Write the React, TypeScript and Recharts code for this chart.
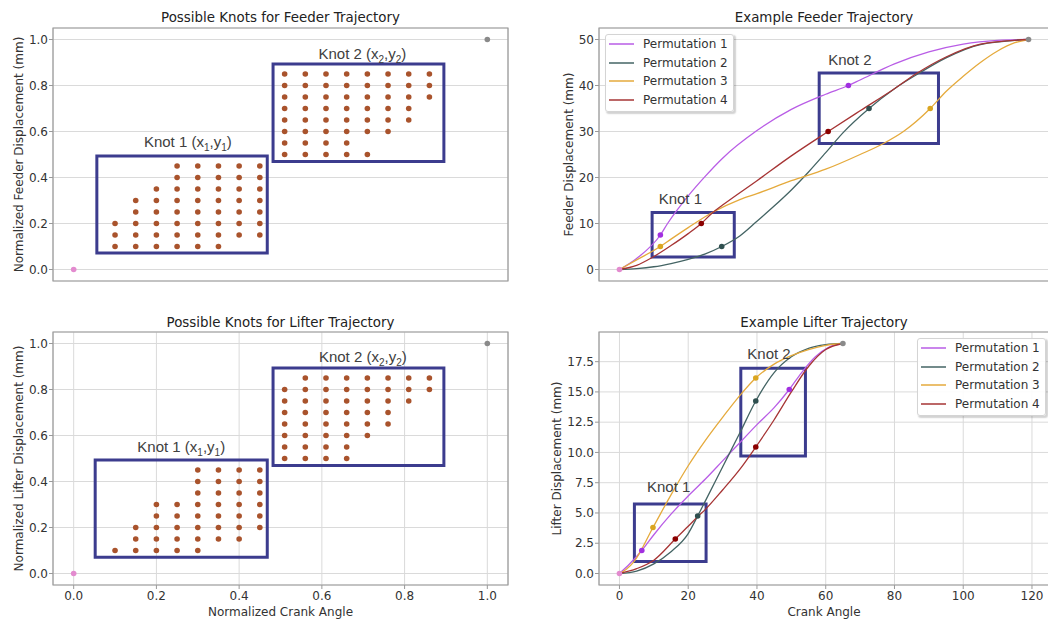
import React from "react";
import {
  CartesianGrid,
  ComposedChart,
  Line,
  ReferenceArea,
  ReferenceDot,
  Scatter,
  ScatterChart,
  XAxis,
  YAxis,
} from "recharts";

// ---- axis ticks
const NORM_TICKS = [0, 0.2, 0.4, 0.6, 0.8, 1.0];
const CRANK_TICKS = [0, 20, 40, 60, 80, 100, 120];
const FEEDER_TICKS = [0, 10, 20, 30, 40, 50];
const LIFTER_TICKS = [0, 2.5, 5, 7.5, 10, 12.5, 15, 17.5];

// ---- candidate knot grids (column x -> list of y)
const K1_X = [0.1, 0.15, 0.2, 0.25, 0.3, 0.35, 0.4, 0.45];
const K2_X = [0.51, 0.56, 0.61, 0.66, 0.71, 0.76, 0.81, 0.86];

const FEEDER_K1_Y = [
  [0.1, 0.15, 0.2],
  [0.1, 0.15, 0.2, 0.25, 0.3],
  [0.1, 0.15, 0.2, 0.25, 0.3, 0.35],
  [0.1, 0.15, 0.2, 0.25, 0.3, 0.35, 0.4, 0.45],
  [0.1, 0.15, 0.2, 0.25, 0.3, 0.35, 0.4, 0.45],
  [0.1, 0.15, 0.2, 0.25, 0.3, 0.35, 0.4, 0.45],
  [0.15, 0.2, 0.25, 0.3, 0.35, 0.4, 0.45],
  [0.15, 0.2, 0.25, 0.3, 0.35, 0.4, 0.45],
];
const FEEDER_K2_Y = [
  [0.5, 0.55, 0.6, 0.65, 0.7, 0.75, 0.8, 0.85],
  [0.5, 0.55, 0.6, 0.65, 0.7, 0.75, 0.8, 0.85],
  [0.5, 0.55, 0.6, 0.65, 0.7, 0.75, 0.8, 0.85],
  [0.5, 0.55, 0.6, 0.65, 0.7, 0.75, 0.8, 0.85],
  [0.5, 0.6, 0.65, 0.7, 0.75, 0.8, 0.85],
  [0.6, 0.65, 0.7, 0.75, 0.8, 0.85],
  [0.65, 0.7, 0.75, 0.8, 0.85],
  [0.75, 0.8, 0.85],
];
const LIFTER_K1_Y = [
  [0.1],
  [0.1, 0.15, 0.2],
  [0.1, 0.15, 0.2, 0.25, 0.3],
  [0.1, 0.15, 0.2, 0.25, 0.3],
  [0.1, 0.15, 0.2, 0.25, 0.3, 0.35, 0.4, 0.45],
  [0.15, 0.2, 0.25, 0.3, 0.35, 0.4, 0.45],
  [0.15, 0.2, 0.25, 0.3, 0.35, 0.4, 0.45],
  [0.2, 0.25, 0.3, 0.35, 0.4, 0.45],
];
const LIFTER_K2_Y = [
  [0.5, 0.55, 0.6, 0.65, 0.7, 0.75, 0.8],
  [0.5, 0.55, 0.6, 0.65, 0.7, 0.75, 0.8, 0.85],
  [0.5, 0.55, 0.6, 0.65, 0.7, 0.75, 0.8, 0.85],
  [0.5, 0.55, 0.6, 0.65, 0.7, 0.75, 0.8, 0.85],
  [0.6, 0.65, 0.7, 0.75, 0.8, 0.85],
  [0.65, 0.7, 0.75, 0.8, 0.85],
  [0.75, 0.8, 0.85],
  [0.8, 0.85],
];

// knot regions [x1, x2, y1, y2]
const FEEDER_NORM_BOXES = [
  [0.056, 0.468, 0.072, 0.493],
  [0.482, 0.895, 0.47, 0.893],
];
const LIFTER_NORM_BOXES = [
  [0.052, 0.468, 0.071, 0.493],
  [0.482, 0.895, 0.47, 0.893],
];
const FEEDER_NORM_LABELS = [
  [0.276, 0.531],
  [0.698, 0.915],
];
const LIFTER_NORM_LABELS = [
  [0.26, 0.53],
  [0.699, 0.92],
];

// ---- example trajectories
const PERM_NAMES = ["Permutation 1", "Permutation 2", "Permutation 3", "Permutation 4"];

const FEEDER_P1_X = [0, 5, 11.9, 14, 20, 25, 30, 40, 50, 60, 66.6, 70, 80, 90, 100, 110, 119];
const FEEDER_P1_Y = [0, 2.4, 7.5, 10, 16, 20.3, 24.2, 30.2, 34.8, 38.1, 40, 41.2, 44.7, 47.3, 49, 49.8, 50];
const FEEDER_P2_X = [0, 5, 10, 15, 20, 25, 29.75, 35, 40, 45, 50, 55, 60, 65, 72.6, 80, 87, 95, 105, 119];
const FEEDER_P2_Y = [0, 0.2, 0.6, 1.3, 2.2, 3.4, 5, 7.3, 10.5, 13.8, 17.3, 21.2, 25.4, 29.7, 35, 39.3, 42.6, 46, 48.9, 50];
const FEEDER_P3_X = [0, 5, 11.9, 15, 20, 27, 35, 40, 50, 60, 70, 76.8, 82.6, 90.4, 95, 100, 105, 110, 115, 119];
const FEEDER_P3_Y = [0, 2.1, 5, 6.6, 9.1, 12.4, 15.2, 16.5, 19.3, 21.8, 25, 27.4, 30, 35, 38.7, 42, 45, 47.5, 49.3, 50];
const FEEDER_P4_X = [0, 5, 9.5, 15, 20, 23.8, 27, 30, 40, 50, 60.7, 70, 80, 86.4, 95, 105, 119];
const FEEDER_P4_Y = [0, 0.9, 2.6, 5.2, 7.8, 10, 12.3, 14, 19.3, 24.7, 30, 34.5, 39.3, 42.6, 46.2, 49, 50];

const FEEDER_KNOT_X = [[11.9, 66.6], [29.75, 72.6], [11.9, 90.4], [23.8, 60.7]];
const FEEDER_KNOT_Y = [[7.5, 40], [5, 35], [5, 35], [10, 30]];
const FEEDER_END = [119, 50];
const FEEDER_BOXES = [
  [9.5, 33.4, 2.7, 12.4],
  [58.1, 92.8, 27.4, 42.7],
];
const FEEDER_LABELS = [
  [11.4, 14.2],
  [60.7, 44.4],
];

const LIFTER_P1_X = [0, 3, 6.5, 10, 15, 20, 25, 30, 35, 40, 45, 49.4, 53, 57, 61, 65];
const LIFTER_P1_Y = [0, 0.8, 1.9, 3.2, 4.9, 6.4, 7.8, 9.3, 10.8, 12.3, 13.7, 15.2, 16.6, 17.9, 18.7, 19];
const LIFTER_P2_X = [0, 5, 10, 15, 20, 22.75, 25, 30, 35, 39.65, 45, 50, 55, 60, 65];
const LIFTER_P2_Y = [0, 0.2, 0.8, 1.8, 3.3, 4.75, 6, 8.8, 11.6, 14.25, 16.6, 17.9, 18.6, 18.9, 19];
const LIFTER_P3_X = [0, 2, 4.3, 9.75, 15, 20, 25, 30, 35, 39.65, 45, 50, 55, 60, 65];
const LIFTER_P3_Y = [0, 0.35, 1.0, 3.8, 6.5, 8.9, 11.0, 12.9, 14.7, 16.15, 17.3, 18.0, 18.5, 18.85, 19];
const LIFTER_P4_X = [0, 5, 10, 16.25, 20, 22.75, 25, 30, 35, 39.65, 45, 50, 55, 60, 65];
const LIFTER_P4_Y = [0, 0.4, 1.1, 2.85, 3.9, 4.7, 5.3, 6.9, 8.6, 10.45, 12.7, 15.0, 17.1, 18.5, 19];

const LIFTER_KNOT_X = [[6.5, 49.4], [22.75, 39.65], [9.75, 39.65], [16.25, 39.65]];
const LIFTER_KNOT_Y = [[1.9, 15.2], [4.75, 14.25], [3.8, 16.15], [2.85, 10.45]];
const LIFTER_END = [65, 19];
const LIFTER_BOXES = [
  [4.35, 25.2, 1.0, 5.75],
  [35.3, 54.1, 9.7, 16.95],
];
const LIFTER_LABELS = [
  [8.0, 6.7],
  [37.2, 17.7],
];

// ---- styles
const FONT = "'DejaVu Sans', sans-serif";
const KNOT_FONT = "'Liberation Sans', Arial, sans-serif";
const TEXT = "#333";
const TICK = { fill: TEXT, fontSize: 12, fontFamily: FONT };
const GRID = "#dadada";
const SPINE = "#9a9a9a";
const BOX = "#3c3c8e";
const DOT = "#a9532c";
const PINK = "#e38bcf";
const GRAY = "#8a8a8a";
const LINE_COLORS = ["#b95de6", "#446464", "#e5aa3c", "#a63434"];
const KNOT_COLORS = ["#a12fe0", "#2f4f4f", "#daa520", "#8b0000"];

const NORM_DOMAIN = [-0.05, 1.05];
const CRANK_DOMAIN = [-5.95, 124.95];
const FEEDER_DOMAIN = [-2.5, 52.5];
const LIFTER_DOMAIN = [-0.95, 19.95];

const grid = (xs: number[], ys: number[][]) =>
  xs.flatMap((x, i) => ys[i].map((y) => ({ x, y })));
const pts = (xs: number[], ys: number[]) => xs.map((x, i) => ({ x, y: ys[i] }));

const FEEDER_LINES = [
  pts(FEEDER_P1_X, FEEDER_P1_Y),
  pts(FEEDER_P2_X, FEEDER_P2_Y),
  pts(FEEDER_P3_X, FEEDER_P3_Y),
  pts(FEEDER_P4_X, FEEDER_P4_Y),
];
const LIFTER_LINES = [
  pts(LIFTER_P1_X, LIFTER_P1_Y),
  pts(LIFTER_P2_X, LIFTER_P2_Y),
  pts(LIFTER_P3_X, LIFTER_P3_Y),
  pts(LIFTER_P4_X, LIFTER_P4_Y),
];

const dotShape = (color: string, r: number) => (p: any) =>
  <circle cx={p.cx} cy={p.cy} r={r} fill={color} />;

function KnotLabel(props: any) {
  const { viewBox, n, coords, anchor } = props;
  const x = viewBox.x + (viewBox.width || 0) / 2;
  const y = viewBox.y + (viewBox.height || 0) / 2;
  return (
    <text x={x} y={y} textAnchor={anchor} fontFamily={KNOT_FONT} fontSize={15} fill="#404040">
      {`Knot ${n}`}
      {coords ? (
        <>
          <tspan>{" (x"}</tspan>
          <tspan fontSize={10} dy={4}>{n}</tspan>
          <tspan dy={-4}>,y</tspan>
          <tspan fontSize={10} dy={4}>{n}</tspan>
          <tspan dy={-4}>)</tspan>
        </>
      ) : null}
    </text>
  );
}

function Title({ text, left, top, width }: { text: string; left: number; top: number; width: number }) {
  return (
    <div
      style={{
        position: "absolute",
        left,
        top,
        width,
        textAlign: "center",
        fontFamily: FONT,
        fontSize: 13.4,
        lineHeight: "16px",
        color: "#222",
      }}
    >
      {text}
    </div>
  );
}

function PermLegend({ left, top }: { left: number; top: number }) {
  return (
    <div
      style={{
        position: "absolute",
        left,
        top,
        background: "rgba(255,255,255,0.9)",
        border: "1px solid #d4d4d4",
        borderRadius: 3,
        boxShadow: "1.5px 1.5px 1.5px rgba(0,0,0,0.18)",
        padding: "0px 5px 2px 3px",
        fontFamily: FONT,
        fontSize: 12,
        color: TEXT,
      }}
    >
      {PERM_NAMES.map((name, i) => (
        <div key={name} style={{ display: "flex", alignItems: "center", height: 18.5, whiteSpace: "nowrap" }}>
          <svg width={25} height={4} style={{ marginRight: 9 }}>
            <line x1={0} y1={2} x2={25} y2={2} stroke={LINE_COLORS[i]} strokeWidth={1.5} />
          </svg>
          {name}
        </div>
      ))}
    </div>
  );
}

function KnotGridChart(props: {
  k1: number[][];
  k2: number[][];
  boxes: number[][];
  labels: number[][];
  yLabel: string;
  bottom: boolean;
}) {
  const { k1, k2, boxes, labels, yLabel, bottom } = props;
  const dots = [...grid(K1_X, k1), ...grid(K2_X, k2)];
  return (
    <ScatterChart
      width={520}
      height={bottom ? 319 : 300}
      margin={{ top: bottom ? 32 : 28, right: 12, bottom: 0, left: 0 }}
    >
      <CartesianGrid stroke={GRID} strokeWidth={1} />
      <XAxis
        type="number"
        dataKey="x"
        domain={NORM_DOMAIN}
        allowDataOverflow
        ticks={NORM_TICKS}
        tickFormatter={(v: number) => v.toFixed(1)}
        tick={bottom ? TICK : false}
        tickLine={{ stroke: SPINE }}
        tickSize={4}
        tickMargin={2}
        axisLine={false}
        height={bottom ? 34 : 19}
        label={
          bottom
            ? { value: "Normalized Crank Angle", position: "insideBottom", offset: 3, style: { fill: TEXT, fontSize: 12, fontFamily: FONT } }
            : undefined
        }
      />
      <YAxis
        type="number"
        dataKey="y"
        domain={NORM_DOMAIN}
        allowDataOverflow
        ticks={NORM_TICKS}
        tickFormatter={(v: number) => v.toFixed(1)}
        tick={TICK}
        tickLine={{ stroke: SPINE }}
        tickSize={4}
        tickMargin={1}
        axisLine={false}
        width={53}
        label={{ value: yLabel, angle: -90, position: "center", dx: -8.2, style: { fill: TEXT, fontSize: 12, fontFamily: FONT } }}
      />
      <ReferenceArea x1={NORM_DOMAIN[0]} x2={NORM_DOMAIN[1]} y1={NORM_DOMAIN[0]} y2={NORM_DOMAIN[1]} fill="none" stroke={SPINE} strokeWidth={1.2} />
      <Scatter data={dots} isAnimationActive={false} shape={dotShape(DOT, 2.8)} />
      <Scatter data={[{ x: 0, y: 0 }]} isAnimationActive={false} shape={dotShape(PINK, 2.8)} />
      <Scatter data={[{ x: 1, y: 1 }]} isAnimationActive={false} shape={dotShape(GRAY, 2.8)} />
      {boxes.map((b, i) => (
        <ReferenceArea key={`b${i}`} x1={b[0]} x2={b[1]} y1={b[2]} y2={b[3]} fill="none" stroke={BOX} strokeWidth={3} />
      ))}
      {labels.map((l, i) => (
        <ReferenceDot
          key={`l${i}`}
          x={l[0]}
          y={l[1]}
          r={0}
          fill="none"
          stroke="none"
          label={<KnotLabel n={i + 1} coords anchor="middle" />}
        />
      ))}
    </ScatterChart>
  );
}

function TrajectoryChart(props: {
  lines: { x: number; y: number }[][];
  knotX: number[][];
  knotY: number[][];
  end: number[];
  boxes: number[][];
  labels: number[][];
  yDomain: number[];
  yTicks: number[];
  yFormat: (v: number) => string;
  yLabel: string;
  yLabelDx: number;
  bottom: boolean;
}) {
  const { lines, knotX, knotY, end, boxes, labels, yDomain, yTicks, yFormat, yLabel, yLabelDx, bottom } = props;
  return (
    <ComposedChart
      width={530}
      height={bottom ? 319 : 300}
      margin={{ top: bottom ? 32 : 28, right: 1, bottom: 0, left: 0 }}
    >
      <CartesianGrid stroke={GRID} strokeWidth={1} />
      <XAxis
        type="number"
        dataKey="x"
        domain={CRANK_DOMAIN}
        allowDataOverflow
        ticks={CRANK_TICKS}
        tick={bottom ? TICK : false}
        tickLine={{ stroke: SPINE }}
        tickSize={4}
        tickMargin={2}
        axisLine={false}
        height={bottom ? 34 : 19}
        label={
          bottom
            ? { value: "Crank Angle", position: "insideBottom", offset: 3, style: { fill: TEXT, fontSize: 12, fontFamily: FONT } }
            : undefined
        }
      />
      <YAxis
        type="number"
        dataKey="y"
        domain={yDomain}
        allowDataOverflow
        ticks={yTicks}
        tickFormatter={yFormat}
        tick={TICK}
        tickLine={{ stroke: SPINE }}
        tickSize={4}
        tickMargin={1}
        axisLine={false}
        width={79}
        label={{ value: yLabel, angle: -90, position: "center", dx: yLabelDx, style: { fill: TEXT, fontSize: 12, fontFamily: FONT } }}
      />
      <ReferenceArea x1={CRANK_DOMAIN[0]} x2={CRANK_DOMAIN[1]} y1={yDomain[0]} y2={yDomain[1]} fill="none" stroke={SPINE} strokeWidth={1.2} />
      {lines.map((d, i) => (
        <Line
          key={`p${i}`}
          data={d}
          dataKey="y"
          type="monotone"
          stroke={LINE_COLORS[i]}
          strokeWidth={1.3}
          dot={false}
          activeDot={false}
          isAnimationActive={false}
        />
      ))}
      {knotX.map((xs, i) => (
        <Scatter
          key={`k${i}`}
          data={pts(xs, knotY[i])}
          dataKey="y"
          isAnimationActive={false}
          shape={dotShape(KNOT_COLORS[i], 2.8)}
        />
      ))}
      <Scatter data={[{ x: 0, y: 0 }]} dataKey="y" isAnimationActive={false} shape={dotShape(PINK, 2.8)} />
      <Scatter data={[{ x: end[0], y: end[1] }]} dataKey="y" isAnimationActive={false} shape={dotShape(GRAY, 2.8)} />
      {boxes.map((b, i) => (
        <ReferenceArea key={`b${i}`} x1={b[0]} x2={b[1]} y1={b[2]} y2={b[3]} fill="none" stroke={BOX} strokeWidth={3} />
      ))}
      {labels.map((l, i) => (
        <ReferenceDot
          key={`l${i}`}
          x={l[0]}
          y={l[1]}
          r={0}
          fill="none"
          stroke="none"
          label={<KnotLabel n={i + 1} anchor="start" />}
        />
      ))}
    </ComposedChart>
  );
}

export default function App() {
  return (
    <div
      style={{
        position: "absolute",
        left: 0,
        top: 0,
        width: 1048,
        height: 619,
        overflow: "hidden",
        background: "#fff",
      }}
    >
      <div style={{ position: "absolute", left: 0, top: 0 }}>
        <KnotGridChart
          k1={FEEDER_K1_Y}
          k2={FEEDER_K2_Y}
          boxes={FEEDER_NORM_BOXES}
          labels={FEEDER_NORM_LABELS}
          yLabel="Normalized Feeder Displacement (mm)"
          bottom={false}
        />
      </div>
      <div style={{ position: "absolute", left: 0, top: 300 }}>
        <KnotGridChart
          k1={LIFTER_K1_Y}
          k2={LIFTER_K2_Y}
          boxes={LIFTER_NORM_BOXES}
          labels={LIFTER_NORM_LABELS}
          yLabel="Normalized Lifter Displacement (mm)"
          bottom
        />
      </div>
      <div style={{ position: "absolute", left: 520, top: 0 }}>
        <TrajectoryChart
          lines={FEEDER_LINES}
          knotX={FEEDER_KNOT_X}
          knotY={FEEDER_KNOT_Y}
          end={FEEDER_END}
          boxes={FEEDER_BOXES}
          labels={FEEDER_LABELS}
          yDomain={FEEDER_DOMAIN}
          yTicks={FEEDER_TICKS}
          yFormat={(v: number) => String(v)}
          yLabel="Feeder Displacement (mm)"
          yLabelDx={8.8}
          bottom={false}
        />
      </div>
      <div style={{ position: "absolute", left: 520, top: 300 }}>
        <TrajectoryChart
          lines={LIFTER_LINES}
          knotX={LIFTER_KNOT_X}
          knotY={LIFTER_KNOT_Y}
          end={LIFTER_END}
          boxes={LIFTER_BOXES}
          labels={LIFTER_LABELS}
          yDomain={LIFTER_DOMAIN}
          yTicks={LIFTER_TICKS}
          yFormat={(v: number) => v.toFixed(1)}
          yLabel="Lifter Displacement (mm)"
          yLabelDx={-2.8}
          bottom
        />
      </div>
      <Title text="Possible Knots for Feeder Trajectory" left={53} top={10} width={455} />
      <Title text="Possible Knots for Lifter Trajectory" left={53} top={315} width={455} />
      <Title text="Example Feeder Trajectory" left={599} top={10} width={450} />
      <Title text="Example Lifter Trajectory" left={599} top={315} width={450} />
      <PermLegend left={605} top={34} />
      <PermLegend left={917} top={338} />
    </div>
  );
}
